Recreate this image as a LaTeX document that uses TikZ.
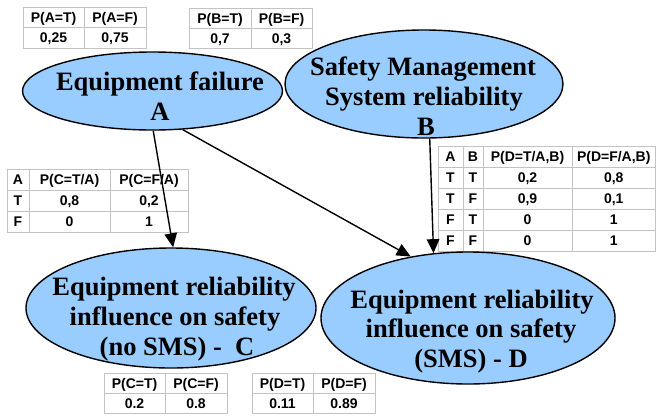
\documentclass[tikz,border=0pt]{standalone}
\usepackage{fontspec}
\setmainfont{Liberation Serif}
\setsansfont{Liberation Sans}
\usetikzlibrary{shapes.geometric,arrows.meta}
\definecolor{nodeblue}{RGB}{153,204,255}
\definecolor{gridgray}{RGB}{195,195,195}
\begin{document}
\begin{tikzpicture}[x=1pt,y=-1pt,
  bnode/.style={ellipse,draw=black,line width=1.4pt,fill=nodeblue,inner sep=0pt},
  etext/.style={font=\fontsize{26.5}{30}\selectfont\bfseries,anchor=base,inner sep=0pt},
  cell/.style={font=\fontsize{14}{16}\selectfont\sffamily\bfseries,text height=10pt,text depth=0pt,inner sep=0pt,anchor=center},
  gridline/.style={draw=gridgray,line width=0.8pt},
  link/.style={draw=black,line width=1.4pt,-{Triangle[length=14pt,width=12.5pt]}}]
\fill[white] (0,0) rectangle (656,416);
\useasboundingbox (0,0) rectangle (656,416);

% ---- Table A ----
\draw[gridline] (23,7) rectangle (146,48);
\draw[gridline] (84,7) -- (84,48);
\draw[gridline] (23,27) -- (146,27);
\node[cell] (ta1) at (53.5,17) {P(A=T)};
\node[cell] (ta2) at (115,17) {P(A=F)};
\node[cell] (ta3) at (53.5,37.5) {0,25};
\node[cell] (ta4) at (115,37.5) {0,75};

% ---- Table B ----
\draw[gridline] (189,8) rectangle (312,48);
\draw[gridline] (251,8) -- (251,48);
\draw[gridline] (189,28) -- (312,28);
\node[cell] (tb1) at (220,18) {P(B=T)};
\node[cell] (tb2) at (281.5,18) {P(B=F)};
\node[cell] (tb3) at (220,38) {0,7};
\node[cell] (tb4) at (281.5,38) {0,3};

% ---- Table C (CPT) ----
\draw[gridline] (7,169) rectangle (188,232);
\draw[gridline] (29,169) -- (29,232);
\draw[gridline] (110,169) -- (110,232);
\draw[gridline] (7,190) -- (188,190);
\draw[gridline] (7,211) -- (188,211);
\node[cell] (tc1) at (18,179.5) {A};
\node[cell] (tc2) at (69.5,179.5) {P(C=T/A)};
\node[cell] (tc3) at (149,179.5) {P(C=F/A)};
\node[cell] (tc4) at (18,200.5) {T};
\node[cell] (tc5) at (69.5,200.5) {0,8};
\node[cell] (tc6) at (149,200.5) {0,2};
\node[cell] (tc7) at (18,221.5) {F};
\node[cell] (tc8) at (69.5,221.5) {0};
\node[cell] (tc9) at (149,221.5) {1};

% ---- Table D (CPT) ----
\draw[gridline] (438,146) rectangle (655.5,251);
\foreach \xx in {463,483,572} \draw[gridline] (\xx,146) -- (\xx,251);
\foreach \yy in {167,188,209,230} \draw[gridline] (438,\yy) -- (655.5,\yy);
\node[cell] (td01) at (450.5,156.5) {A};
\node[cell] (td02) at (473,156.5) {B};
\node[cell] (td03) at (527.5,156.5) {P(D=T/A,B)};
\node[cell] (td04) at (613.75,156.5) {P(D=F/A,B)};
\node[cell] (td05) at (450.5,177.5) {T};
\node[cell] (td06) at (473,177.5) {T};
\node[cell] (td07) at (527.5,177.5) {0,2};
\node[cell] (td08) at (613.75,177.5) {0,8};
\node[cell] (td09) at (450.5,198.5) {T};
\node[cell] (td10) at (473,198.5) {F};
\node[cell] (td11) at (527.5,198.5) {0,9};
\node[cell] (td12) at (613.75,198.5) {0,1};
\node[cell] (td13) at (450.5,219.5) {F};
\node[cell] (td14) at (473,219.5) {T};
\node[cell] (td15) at (527.5,219.5) {0};
\node[cell] (td16) at (613.75,219.5) {1};
\node[cell] (td17) at (450.5,240.5) {F};
\node[cell] (td18) at (473,240.5) {F};
\node[cell] (td19) at (527.5,240.5) {0};
\node[cell] (td20) at (613.75,240.5) {1};

% ---- Table C marginal ----
\draw[gridline] (104,373) rectangle (227,413);
\draw[gridline] (165,373) -- (165,413);
\draw[gridline] (104,393) -- (227,393);
\node[cell] (mc1) at (134.5,383) {P(C=T)};
\node[cell] (mc2) at (196,383) {P(C=F)};
\node[cell] (mc3) at (134.5,403) {0.2};
\node[cell] (mc4) at (196,403) {0.8};

% ---- Table D marginal ----
\draw[gridline] (252,373) rectangle (375,413);
\draw[gridline] (313,373) -- (313,413);
\draw[gridline] (252,393) -- (375,393);
\node[cell] (md1) at (282.5,383) {P(D=T)};
\node[cell] (md2) at (344,383) {P(D=F)};
\node[cell] (md3) at (282.5,403) {0.11};
\node[cell] (md4) at (344,403) {0.89};

% ---- Ellipses ----
\node[bnode,minimum width=260pt,minimum height=78pt] (A) at (152.5,91) {};
\node[bnode,minimum width=278pt,minimum height=108pt] (B) at (424,84) {};
\node[bnode,minimum width=290pt,minimum height=120pt] (C) at (171,308) {};
\node[bnode,minimum width=294pt,minimum height=132pt] (D) at (468,318) {};

% ---- Ellipse texts ----
\node[etext] (A1) at (160,90) {Equipment failure};
\node[etext] (A2) at (160,120) {A};
\node[etext] (B1) at (423,75) {Safety Management};
\node[etext] (B2) at (424,105) {System reliability};
\node[etext] (B3) at (426,135) {B};
\node[etext] (C1) at (174,295) {Equipment reliability};
\node[etext] (C2) at (175,325) {influence on safety};
\node[etext] (C3) at (177,355) {(no SMS) -\ \ C};
\node[etext] (D1) at (472,308) {Equipment reliability};
\node[etext] (D2) at (471,337) {influence on safety};
\node[etext] (D3) at (471,367) {(SMS) - D};

% ---- Connectors ----
\draw[link] (A.271) -- (C.88);
\draw[link] (A.308) -- (D.133);
\draw[link] (B.276) -- (D.118.7);
\end{tikzpicture}
\end{document}
